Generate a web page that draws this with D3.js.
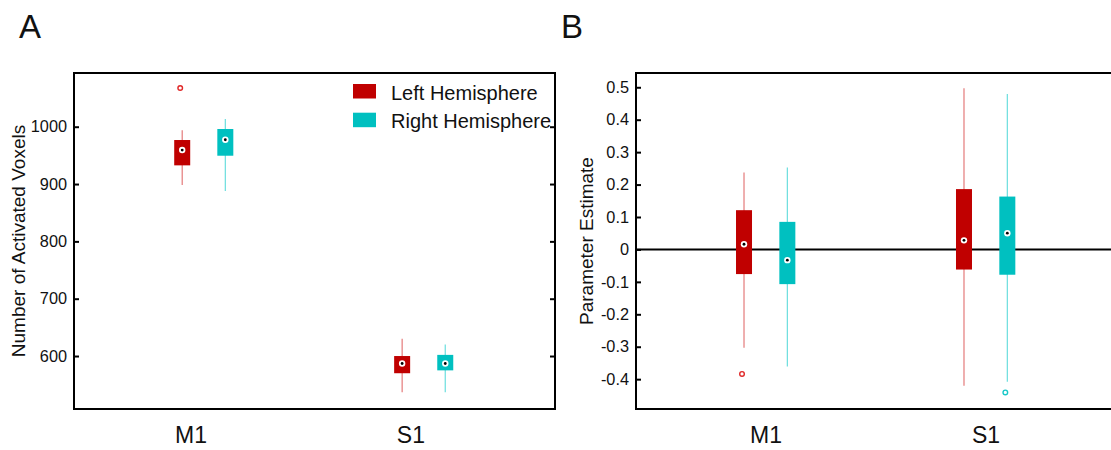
<!DOCTYPE html>
<html>
<head>
<meta charset="utf-8">
<script src="https://cdn.jsdelivr.net/npm/d3@7/dist/d3.min.js"></script>
<style>
  html, body { margin: 0; padding: 0; background: #fff; }
  svg { display: block; font-family: "Liberation Sans", Arial, sans-serif; }
</style>
</head>
<body>
<svg id="chart" width="1111" height="450"></svg>
<script>
// ---------------- DATA ----------------
const categories = ["M1", "S1"];
const hemispheres = ["Left Hemisphere", "Right Hemisphere"];

// Panel A: Number of Activated Voxels
const voxLeftQ1     = [932.6, 570];
const voxLeftMedian = [959.3, 587];
const voxLeftQ3     = [976.8, 600];
const voxLeftLo     = [898.3, 537];
const voxLeftHi     = [994.0, 630];
const voxLeftOut    = [[1067.5], []];

const voxRightQ1     = [949.4, 575];
const voxRightMedian = [977.3, 587];
const voxRightQ3     = [996.0, 602];
const voxRightLo     = [888.0, 537];
const voxRightHi     = [1013.4, 620];
const voxRightOut    = [[], []];

const voxTicks = [600, 700, 800, 900, 1000];

// Panel B: Parameter Estimate
const parLeftQ1     = [-0.076, -0.062];
const parLeftMedian = [0.016, 0.028];
const parLeftQ3     = [0.121, 0.186];
const parLeftLo     = [-0.303, -0.420];
const parLeftHi     = [0.237, 0.497];
const parLeftOut    = [[-0.384], []];

const parRightQ1     = [-0.107, -0.078];
const parRightMedian = [-0.033, 0.050];
const parRightQ3     = [0.085, 0.163];
const parRightLo     = [-0.361, -0.408];
const parRightHi     = [0.253, 0.479];
const parRightOut    = [[], [-0.441]];

const parTicks = [-0.4, -0.3, -0.2, -0.1, 0, 0.1, 0.2, 0.3, 0.4, 0.5];

// ---------------- STYLE / LAYOUT ----------------
const RED = "#c00000", CYAN = "#00c0c0";
const RED_W = "#e47a7a", CYAN_W = "#6adede";
const RED_O = "#e02828", CYAN_O = "#18c8c8";
const svg = d3.select("#chart");
const plotTop = 73, plotBottom = 409;

function panel(cfg) {
  const g = svg.append("g");
  const x = d3.scaleLinear().domain(cfg.xDomain).range([cfg.left, cfg.right]);
  const y = d3.scaleLinear().domain(cfg.yDomain).range([plotBottom, plotTop]);

  // y axes (inward ticks)
  const ax = g.append("g").attr("transform", `translate(${cfg.left},0)`)
    .call(d3.axisLeft(y).tickValues(cfg.ticks).tickSizeInner(-5).tickSizeOuter(0)
      .tickPadding(7).tickFormat(cfg.fmt));
  ax.select(".domain").remove();
  ax.selectAll(".tick line").attr("stroke", "#000").attr("stroke-width", 2);
  ax.selectAll(".tick text").attr("font-size", 16.3).attr("fill", "#111")
    .attr("font-family", "Liberation Sans, Arial, sans-serif");

  const axR = g.append("g").attr("transform", `translate(${cfg.right},0)`)
    .call(d3.axisRight(y).tickValues(cfg.ticks).tickSizeInner(-5).tickSizeOuter(0).tickFormat(""));
  axR.select(".domain").remove();
  axR.selectAll(".tick line").attr("stroke", "#000").attr("stroke-width", 2);

  // zero line
  if (cfg.zeroLine) {
    g.append("line").attr("x1", cfg.left).attr("x2", cfg.right)
      .attr("y1", y(0)).attr("y2", y(0)).attr("stroke", "#000").attr("stroke-width", 2);
  }

  const series = [
    { q1: cfg.L.q1, med: cfg.L.med, q3: cfg.L.q3, lo: cfg.L.lo, hi: cfg.L.hi, out: cfg.L.out,
      off: cfg.offL, fill: RED, wc: RED_W, oc: RED_O },
    { q1: cfg.R.q1, med: cfg.R.med, q3: cfg.R.q3, lo: cfg.R.lo, hi: cfg.R.hi, out: cfg.R.out,
      off: cfg.offR, fill: CYAN, wc: CYAN_W, oc: CYAN_O }
  ];
  const bw = 16;
  series.forEach(s => {
    categories.forEach((c, i) => {
      const cx = x(i + 1 + s.off);
      g.append("line").attr("x1", cx).attr("x2", cx)
        .attr("y1", y(s.hi[i])).attr("y2", y(s.lo[i]))
        .attr("stroke", s.wc).attr("stroke-width", 1.2);
      g.append("rect").attr("x", cx - bw / 2).attr("width", bw)
        .attr("y", y(s.q3[i])).attr("height", y(s.q1[i]) - y(s.q3[i]))
        .attr("fill", s.fill);
      g.append("circle").attr("cx", cx).attr("cy", y(s.med[i])).attr("r", 3.2)
        .attr("fill", "#fff");
      g.append("circle").attr("cx", cx).attr("cy", y(s.med[i])).attr("r", 1.4)
        .attr("fill", "#000");
      s.out[i].forEach(v => {
        g.append("circle").attr("cx", cx - 2).attr("cy", y(v)).attr("r", 2.3)
          .attr("fill", "#fff").attr("stroke", s.oc).attr("stroke-width", 1.4);
      });
    });
  });

  // frame
  g.append("rect").attr("x", cfg.left).attr("y", plotTop)
    .attr("width", cfg.right - cfg.left).attr("height", plotBottom - plotTop)
    .attr("fill", "none").attr("stroke", "#000").attr("stroke-width", 2);

  // category labels
  g.selectAll(".cat").data(categories).join("text")
    .attr("x", (d, i) => x(i + 1)).attr("y", 443)
    .attr("text-anchor", "middle").attr("font-size", 23).attr("fill", "#111")
    .text(d => d);

  // y title
  g.append("text")
    .attr("transform", `translate(${cfg.titleX},241) rotate(-90)`)
    .attr("text-anchor", "middle").attr("font-size", 19).attr("fill", "#111")
    .text(cfg.title);

  // panel letter
  g.append("text").attr("x", cfg.letterX).attr("y", 38)
    .attr("font-size", 33).attr("fill", "#111").text(cfg.letter);

  return { g, x, y };
}

const pA = panel({
  left: 74, right: 555,
  xDomain: [0.468, 2.655], yDomain: [507.6, 1093.7],
  ticks: voxTicks, fmt: d3.format("d"),
  offL: -0.04, offR: 0.156,
  L: { q1: voxLeftQ1, med: voxLeftMedian, q3: voxLeftQ3, lo: voxLeftLo, hi: voxLeftHi, out: voxLeftOut },
  R: { q1: voxRightQ1, med: voxRightMedian, q3: voxRightQ3, lo: voxRightLo, hi: voxRightHi, out: voxRightOut },
  title: "Number of Activated Voxels", titleX: 25, letter: "A", letterX: 19
});

const pB = panel({
  left: 636, right: 1116,
  xDomain: [0.409, 2.591], yDomain: [-0.492, 0.544],
  ticks: parTicks, fmt: d => d === 0 ? "0" : d.toFixed(1),
  offL: -0.1, offR: 0.097, zeroLine: true,
  L: { q1: parLeftQ1, med: parLeftMedian, q3: parLeftQ3, lo: parLeftLo, hi: parLeftHi, out: parLeftOut },
  R: { q1: parRightQ1, med: parRightMedian, q3: parRightQ3, lo: parRightLo, hi: parRightHi, out: parRightOut },
  title: "Parameter Estimate", titleX: 593, letter: "B", letterX: 561
});

// legend (panel A)
const legColors = [RED, CYAN];
const leg = svg.append("g");
hemispheres.forEach((h, i) => {
  leg.append("rect").attr("x", 353).attr("y", 84 + i * 28.7)
    .attr("width", 23).attr("height", 14.5).attr("fill", legColors[i]);
  leg.append("text").attr("x", 391).attr("y", 99.5 + i * 28.3)
    .attr("font-size", 20).attr("fill", "#111").text(h);
});
</script>
</body>
</html>
